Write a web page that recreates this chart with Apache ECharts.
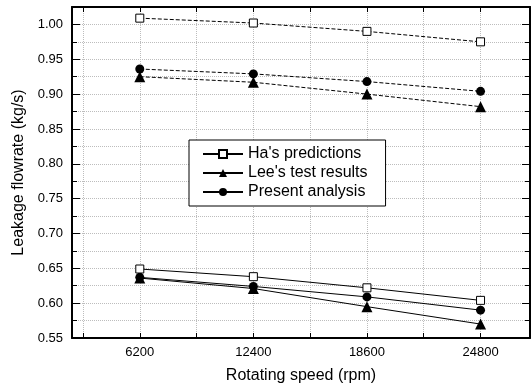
<!DOCTYPE html>
<html>
<head>
<meta charset="utf-8">
<script src="https://cdn.jsdelivr.net/npm/echarts@6/dist/echarts.min.js"></script>
<style>
html, body { margin: 0; padding: 0; background: #fff; }
#main { width: 531px; height: 385px; }
</style>
</head>
<body>
<div id="main"></div>
<script>
var speeds = [6200, 12400, 18600, 24800];
var tickValues = [3100, 6200, 9300, 12400, 15500, 18600, 21700, 24800];
var names = ["Ha's predictions", "Lee's test results", "Present analysis"];

// lower group (solid lines)
var haLow = [0.649, 0.638, 0.622, 0.604];
var leeLow = [0.636, 0.621, 0.595, 0.570];
var presentLow = [0.637, 0.624, 0.609, 0.590];
// upper group (dashed lines)
var haHigh = [1.009, 1.002, 0.990, 0.975];
var leeHigh = [0.925, 0.917, 0.900, 0.882];
var presentHigh = [0.936, 0.929, 0.918, 0.904];

function pts(vals) {
    return speeds.map(function (s, i) { return [s, vals[i]]; });
}

var fontFam = 'Liberation Sans, Arial, sans-serif';
var markers = {};
markers[names[0]] = { symbol: 'rect', symbolSize: 8, itemStyle: { color: '#fff', borderColor: '#000', borderWidth: 1 } };
markers[names[1]] = { symbol: 'triangle', symbolSize: 11, itemStyle: { color: '#000' } };
markers[names[2]] = { symbol: 'circle', symbolSize: 9, itemStyle: { color: '#000' } };

function makeSeries(name, vals, dashed) {
    var m = markers[name];
    return {
        name: name,
        type: 'line',
        data: pts(vals),
        symbol: m.symbol,
        symbolSize: m.symbolSize,
        showAllSymbol: true,
        itemStyle: m.itemStyle,
        lineStyle: { color: '#000', width: 1, type: dashed ? [4, 2] : 'solid' },
        emphasis: { disabled: true },
        z: name === names[0] ? 3 : 2
    };
}

var gridLine = { show: true, lineStyle: { color: '#bdbdbd', type: [1, 1], width: 1 } };

var option = {
    animation: false,
    backgroundColor: '#fff',
    textStyle: { fontFamily: fontFam },
    grid: { left: 72, right: 1, top: 7, bottom: 47, outerBoundsMode: 'none', containLabel: false },
    legend: {
        orient: 'vertical',
        left: 189,
        top: 140,
        data: names,
        itemWidth: 40,
        itemHeight: 10,
        itemGap: 3,
        padding: [6, 18, 6, 13],
        borderColor: '#000',
        borderWidth: 1,
        backgroundColor: '#fff',
        textStyle: { fontSize: 16, color: '#000', fontFamily: fontFam },
        z: 10
    },
    xAxis: [{
        type: 'value',
        position: 'bottom',
        min: 2500,
        max: 27500,
        name: 'Rotating speed (rpm)',
        nameLocation: 'middle',
        nameGap: 30,
        nameTextStyle: { fontSize: 16, color: '#000' },
        axisLine: { lineStyle: { color: '#000', width: 2 } },
        axisTick: { inside: true, length: 5, customValues: tickValues, lineStyle: { color: '#000' } },
        axisLabel: {
            customValues: speeds, fontSize: 13, color: '#000', margin: 8,
            formatter: function (v) { return String(v); }
        },
        splitLine: gridLine
    }, {
        type: 'value',
        position: 'top',
        min: 2500,
        max: 27500,
        axisLine: { lineStyle: { color: '#000', width: 2 } },
        axisTick: { inside: true, length: 5, customValues: tickValues, lineStyle: { color: '#000' } },
        axisLabel: { show: false },
        splitLine: { show: false }
    }],
    yAxis: [{
        type: 'value',
        position: 'left',
        min: 0.55,
        max: 1.025,
        interval: 0.05,
        name: 'Leakage flowrate (kg/s)',
        nameLocation: 'middle',
        nameGap: 44,
        nameTextStyle: { fontSize: 16, color: '#000' },
        axisLine: { show: true, lineStyle: { color: '#000', width: 2 } },
        axisTick: { inside: true, length: 8, lineStyle: { color: '#000' } },
        minorTick: { show: true, splitNumber: 2, length: 5, lineStyle: { color: '#000' } },
        axisLabel: {
            fontSize: 13, color: '#000', margin: 9,
            showMaxLabel: false,
            formatter: function (v) { return v.toFixed(2); }
        },
        splitLine: gridLine,
        minorSplitLine: gridLine
    }, {
        type: 'value',
        position: 'right',
        min: 0.55,
        max: 1.025,
        interval: 0.05,
        axisLine: { show: true, lineStyle: { color: '#000', width: 2 } },
        axisTick: { inside: true, length: 8, lineStyle: { color: '#000' } },
        minorTick: { show: true, splitNumber: 2, length: 5, lineStyle: { color: '#000' } },
        axisLabel: { show: false },
        splitLine: { show: false }
    }],
    series: [
        makeSeries(names[0], haLow, false),
        makeSeries(names[1], leeLow, false),
        makeSeries(names[2], presentLow, false),
        makeSeries(names[0], haHigh, true),
        makeSeries(names[1], leeHigh, true),
        makeSeries(names[2], presentHigh, true)
    ]
};

var chart = echarts.init(document.getElementById('main'));
chart.setOption(option);
</script>
</body>
</html>
